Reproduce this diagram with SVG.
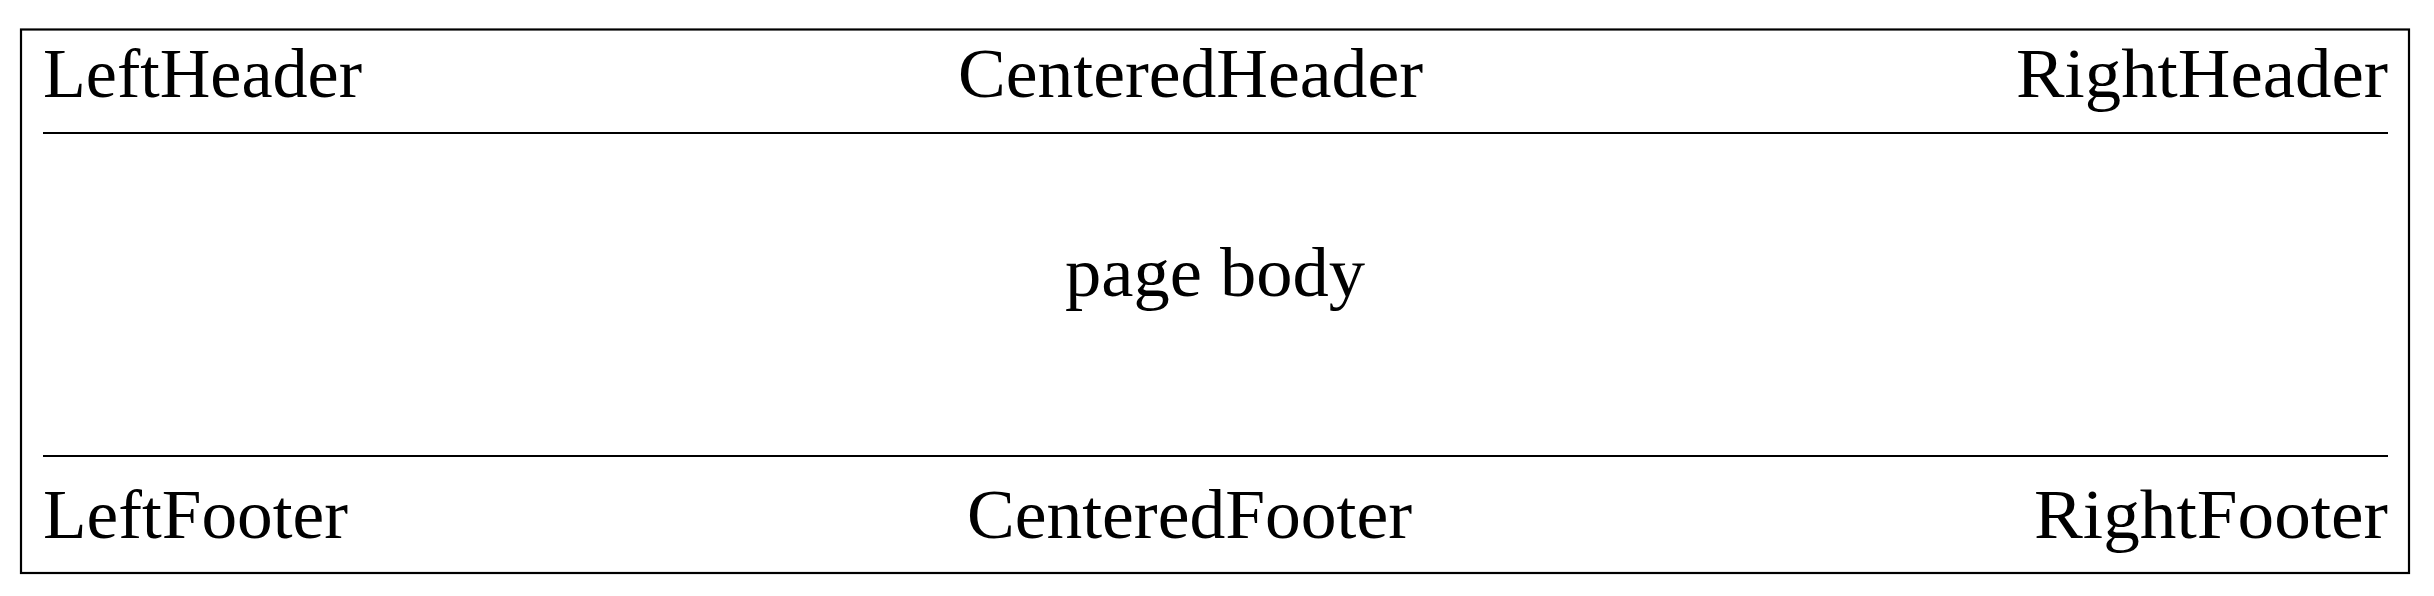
<svg xmlns="http://www.w3.org/2000/svg" width="2434" height="596" viewBox="0 0 2434 596">
<style>
.t{font-family:"Liberation Serif","DejaVu Serif",serif;font-size:70px;fill:#000}
.l{stroke:#000;stroke-width:2.2;fill:none}
</style>
<rect x="0" y="0" width="2434" height="596" fill="#fff"/>
<g id="page">
<rect class="l" x="21" y="29.5" width="2388" height="543.5"/>
</g>
<g id="rules">
<line class="l" x1="43" y1="133" x2="2388" y2="133"/>
<line class="l" x1="43" y1="456" x2="2388" y2="456"/>
</g>
<g id="header">
<text class="t" x="43" y="97" textLength="319" lengthAdjust="spacingAndGlyphs">LeftHeader</text>
<text class="t" x="958" y="97" textLength="465" lengthAdjust="spacingAndGlyphs">CenteredHeader</text>
<text class="t" x="2016" y="97" textLength="372" lengthAdjust="spacingAndGlyphs">RightHeader</text>
</g>
<g id="body">
<text class="t" x="1065" y="296" textLength="300" lengthAdjust="spacingAndGlyphs">page body</text>
</g>
<g id="footer">
<text class="t" x="43" y="538" textLength="305" lengthAdjust="spacingAndGlyphs">LeftFooter</text>
<text class="t" x="967" y="538" textLength="445" lengthAdjust="spacingAndGlyphs">CenteredFooter</text>
<text class="t" x="2034" y="538" textLength="354" lengthAdjust="spacingAndGlyphs">RightFooter</text>
</g>
</svg>
